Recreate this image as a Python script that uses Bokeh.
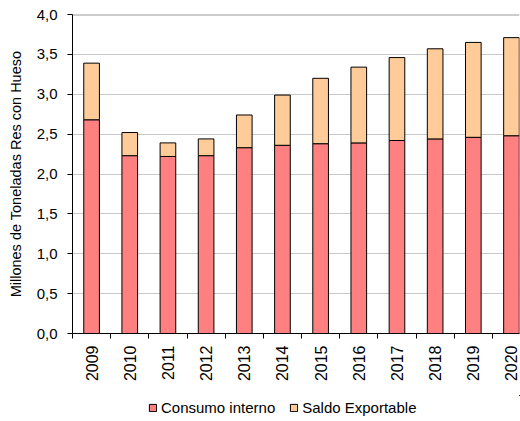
import math
from bokeh.plotting import figure
from bokeh.layouts import column
from bokeh.models import (Range1d, FixedTicker, ColumnDataSource, Legend, LegendItem)
from bokeh.embed import file_html
from bokeh.resources import INLINE

years = ["2009", "2010", "2011", "2012", "2013", "2014", "2015", "2016", "2017", "2018", "2019", "2020"]
consumo_interno = [2.68, 2.23, 2.22, 2.23, 2.33, 2.36, 2.38, 2.39, 2.42, 2.44, 2.46, 2.48]
total = [3.39, 2.52, 2.39, 2.44, 2.74, 2.99, 3.20, 3.34, 3.46, 3.57, 3.65, 3.71]
saldo_exportable = [round(t - c, 3) for t, c in zip(total, consumo_interno)]
y_ticks = [0.0, 0.5, 1.0, 1.5, 2.0, 2.5, 3.0, 3.5, 4.0]
y_tick_labels = ["0,0", "0,5", "1,0", "1,5", "2,0", "2,5", "3,0", "3,5", "4,0"]
series_names = ["Consumo interno", "Saldo Exportable"]
series_colors = ["#FF8080", "#FFCC99"]

FONT = "Liberation Sans"
n = len(years)
xpos = [i + 0.5 for i in range(n)]

src = ColumnDataSource(dict(
    x=xpos,
    consumo=consumo_interno,
    total=total,
))

p = figure(width=520, height=395, output_backend="svg", toolbar_location=None,
           x_range=Range1d(0, 11.71), y_range=Range1d(0, 4.0),
           min_border_left=72, min_border_top=14, min_border_right=1,
           min_border_bottom=62, outline_line_color=None)
p.background_fill_color = "white"
p.border_fill_color = "white"

r1 = p.vbar(x="x", bottom=0, top="consumo", width=0.41, source=src,
            fill_color=series_colors[0], line_color="black", line_width=1)
r2 = p.vbar(x="x", bottom="consumo", top="total", width=0.41, source=src,
            fill_color=series_colors[1], line_color="black", line_width=1)

# y axis
p.yaxis.ticker = FixedTicker(ticks=y_ticks)
p.yaxis.major_label_overrides = {t: l for t, l in zip(y_ticks, y_tick_labels)}
p.yaxis.axis_label = "Millones de Toneladas Res con Hueso"
p.yaxis.axis_label_text_font = FONT
p.yaxis.axis_label_text_font_size = "14.5px"
p.yaxis.axis_label_text_font_style = "normal"
p.yaxis.axis_label_text_color = "black"
p.yaxis.axis_label_standoff = 10
p.yaxis.major_label_text_font = FONT
p.yaxis.major_label_text_font_size = "15px"
p.yaxis.major_label_text_color = "black"
p.yaxis.major_label_standoff = 10
p.yaxis.major_tick_out = 5
p.yaxis.major_tick_in = 0
p.yaxis.minor_tick_out = 0
p.yaxis.minor_tick_in = 0
p.yaxis.axis_line_color = "black"
p.yaxis.major_tick_line_color = "black"

# x axis
p.xaxis.ticker = FixedTicker(ticks=xpos, minor_ticks=list(range(n)))
p.xaxis.major_label_overrides = {x: y for x, y in zip(xpos, years)}
p.xaxis.major_label_orientation = math.pi / 2
p.xaxis.major_label_text_font = FONT
p.xaxis.major_label_text_font_size = "16px"
p.xaxis.major_label_text_color = "black"
p.xaxis.major_label_standoff = 7
p.xaxis.major_tick_out = 0
p.xaxis.major_tick_in = 0
p.xaxis.minor_tick_out = 5
p.xaxis.minor_tick_in = 0
p.xaxis.minor_tick_line_color = "black"
p.xaxis.axis_line_color = "black"

# grid
p.xgrid.visible = False
p.ygrid.ticker = FixedTicker(ticks=y_ticks[1:-1])
p.ygrid.grid_line_color = "#C8C8C8"
p.ygrid.grid_line_width = 1

top_line = p.hspan(y=[4.0], line_color="#999999", line_width=2)

# legend strip (separate small figure so the legend is not clipped);
# its ranges lie far outside the data, so only the legend swatches show.
lg = figure(width=520, height=26, output_backend="svg", toolbar_location=None,
            x_range=Range1d(-100, -88.29), y_range=Range1d(-2, -1),
            x_axis_location=None, y_axis_location=None,
            min_border_left=72, min_border_right=1, min_border_top=0, min_border_bottom=0,
            outline_line_color=None)
lg.grid.visible = False
lg.background_fill_color = "white"
lg.border_fill_color = "white"
l1 = lg.vbar(x="x", bottom=0, top="consumo", width=0.41, source=src,
             fill_color=series_colors[0], line_color="black", line_width=1)
l2 = lg.vbar(x="x", bottom="consumo", top="total", width=0.41, source=src,
             fill_color=series_colors[1], line_color="black", line_width=1)
legend = Legend(items=[LegendItem(label=nm, renderers=[rr]) for nm, rr in zip(series_names, [l1, l2])],
                orientation="horizontal", location=(76, 5),
                label_text_font=FONT, label_text_font_size="15px",
                label_text_color="black", glyph_width=9, glyph_height=9,
                label_standoff=4, spacing=14, padding=2, margin=0,
                border_line_color=None, background_fill_alpha=0)
lg.add_layout(legend, "center")

layout = column(p, lg, spacing=0)
open("out.html", "w").write(file_html(layout, INLINE))
